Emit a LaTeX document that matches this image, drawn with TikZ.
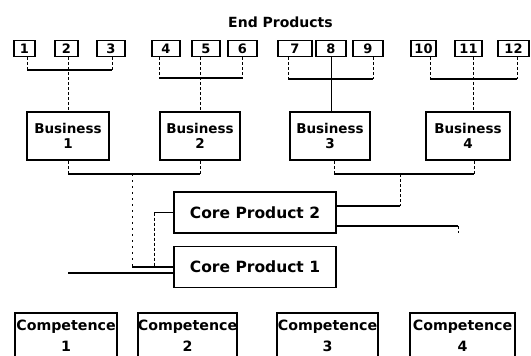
\documentclass[tikz,border=0pt]{standalone}
\usepackage{fontspec}
\setmainfont{DejaVu Sans}
\begin{document}
\begin{tikzpicture}[x=1pt,y=-1pt,
  box/.style={draw, line width=1.6pt, inner sep=0pt, align=center},
  epbox/.style={box, minimum height=16pt, font=\bfseries\fontsize{13}{13}\selectfont},
  busbox/.style={box, minimum height=48pt, font=\bfseries\fontsize{13.5}{15}\selectfont},
  cpbox/.style={box, minimum width=162pt, minimum height=41pt, font=\bfseries\fontsize{15.5}{18}\selectfont},
  compbox/.style={box, minimum height=45pt, font=\bfseries\fontsize{14.2}{21}\selectfont},
  titletext/.style={font=\bfseries\fontsize{14}{16}\selectfont, inner sep=0pt},
  hline/.style={line width=1.6pt},
  vline/.style={line width=0.7pt, dash pattern=on 3pt off 2pt},
  dline/.style={line width=0.7pt, dash pattern=on 2pt off 4pt},
]
\useasboundingbox (0,0) rectangle (531,356);
\clip (0,0) rectangle (531,356);

% title
\node[titletext] (title) at (280.5,22) {End Products};

% end products
\node[epbox, minimum width=21pt] (e1) at (24.5,48.5) {1};
\node[epbox, minimum width=23pt] (e2) at (66.5,48.5) {2};
\node[epbox, minimum width=28pt] (e3) at (111,48.5) {3};
\node[epbox, minimum width=28pt] (e4) at (166,48.5) {4};
\node[epbox, minimum width=28pt] (e5) at (206,48.5) {5};
\node[epbox, minimum width=29pt] (e6) at (242.5,48.5) {6};
\node[epbox, minimum width=34pt] (e7) at (295,48.5) {7};
\node[epbox, minimum width=30pt] (e8) at (331,48.5) {8};
\node[epbox, minimum width=30pt] (e9) at (368,48.5) {9};
\node[epbox, minimum width=25pt] (e10) at (423.5,48.5) {10};
\node[epbox, minimum width=27pt] (e11) at (468.5,48.5) {11};
\node[epbox, minimum width=31pt] (e12) at (513.5,48.5) {12};

% businesses
\node[busbox, minimum width=82pt] (b1) at (68,136) {Business\\1};
\node[busbox, minimum width=80pt] (b2) at (200,136) {Business\\2};
\node[busbox, minimum width=80pt] (b3) at (330,136) {Business\\3};
\node[busbox, minimum width=84pt] (b4) at (468,136) {Business\\4};

% core products
\node[cpbox] (cp2) at (255,212.5) {Core Product 2};
\node[cpbox] (cp1) at (255,267) {Core Product 1};

% competences
\node[compbox, minimum width=102pt] (c1) at (66,335.5) {Competence\\1};
\node[compbox, minimum width=99pt] (c2) at (187.5,335.5) {Competence\\2};
\node[compbox, minimum width=101pt] (c3) at (327.5,335.5) {Competence\\3};
\node[compbox, minimum width=105pt] (c4) at (462.5,335.5) {Competence\\4};

% group 1 bracket
\coordinate (g1) at (68,70);
\draw[hline] ([xshift=2.5pt]e1.south |- g1) -- ([xshift=1pt]e3.south |- g1);
\draw[vline] ([xshift=2.5pt]e1.south) -- ([xshift=2.5pt]e1.south |- g1);
\draw[vline] ([xshift=1pt]e3.south) -- ([xshift=1pt]e3.south |- g1);
\draw[vline] ([xshift=1.5pt]e2.south) -- (b1.north);

% group 2 bracket
\coordinate (g2) at (200,78);
\draw[hline] ([xshift=-7pt]e4.south |- g2) -- (e6.south |- g2);
\draw[vline] ([xshift=-7pt]e4.south) -- ([xshift=-7pt]e4.south |- g2);
\draw[vline] (e6.south) -- (e6.south |- g2);
\draw[vline] ([xshift=-6pt]e5.south) -- (b2.north);

% group 3 bracket
\coordinate (g3) at (331,79);
\draw[hline] ([xshift=-7pt]e7.south |- g3) -- ([xshift=5pt]e9.south |- g3);
\draw[vline] ([xshift=-7pt]e7.south) -- ([xshift=-7pt]e7.south |- g3);
\draw[vline] ([xshift=5pt]e9.south) -- ([xshift=5pt]e9.south |- g3);
\draw[line width=0.7pt] (e8.south) -- (e8.south |- b3.north);

% group 4 bracket
\coordinate (g4) at (473,79);
\draw[hline] ([xshift=6.5pt]e10.south |- g4) -- ([xshift=3.5pt]e12.south |- g4);
\draw[vline] ([xshift=6.5pt]e10.south) -- ([xshift=6.5pt]e10.south |- g4);
\draw[vline] ([xshift=3.5pt]e12.south) -- ([xshift=3.5pt]e12.south |- g4);
\draw[vline] ([xshift=4.5pt]e11.south) -- ([xshift=5pt]b4.north);

% business 1-2 bracket to core products
\coordinate (j12) at (132,174);
\draw[hline] (b1.south |- j12) -- (b2.south |- j12);
\draw[vline] (b1.south) -- (b1.south |- j12);
\draw[vline] (b2.south) -- (b2.south |- j12);
\draw[dline] (j12) -- (j12 |- cp1.west);
\draw[hline] (j12 |- cp1.west) -- (cp1.west);

\coordinate (k2) at (154,213);
\draw[hline] (cp2.west) -- (cp2.west -| k2);
\draw[vline] (cp2.west -| k2) -- (k2 |- cp1.west);

% core product 1 towards competence 1
\coordinate (lc1) at (68,273);
\draw[hline] (cp1.west |- lc1) -- (lc1);

% business 3-4 bracket to core product 2
\coordinate (j34) at (400,174);
\draw[hline] ([xshift=4pt]b3.south |- j34) -- ([xshift=6pt]b4.south |- j34);
\draw[vline] ([xshift=4pt]b3.south) -- ([xshift=4pt]b3.south |- j34);
\draw[vline] ([xshift=6pt]b4.south) -- ([xshift=6pt]b4.south |- j34);
\coordinate (r2) at (400,206);
\draw[vline] (j34) -- (r2);
\draw[hline] (r2) -- (cp2.east |- r2);

% core product 2 towards competence 4
\coordinate (r4) at (458,226);
\coordinate (r4e) at (458,233);
\draw[hline] (cp2.east |- r4) -- (r4);
\draw[vline] (r4) -- (r4e);
\end{tikzpicture}
\end{document}
